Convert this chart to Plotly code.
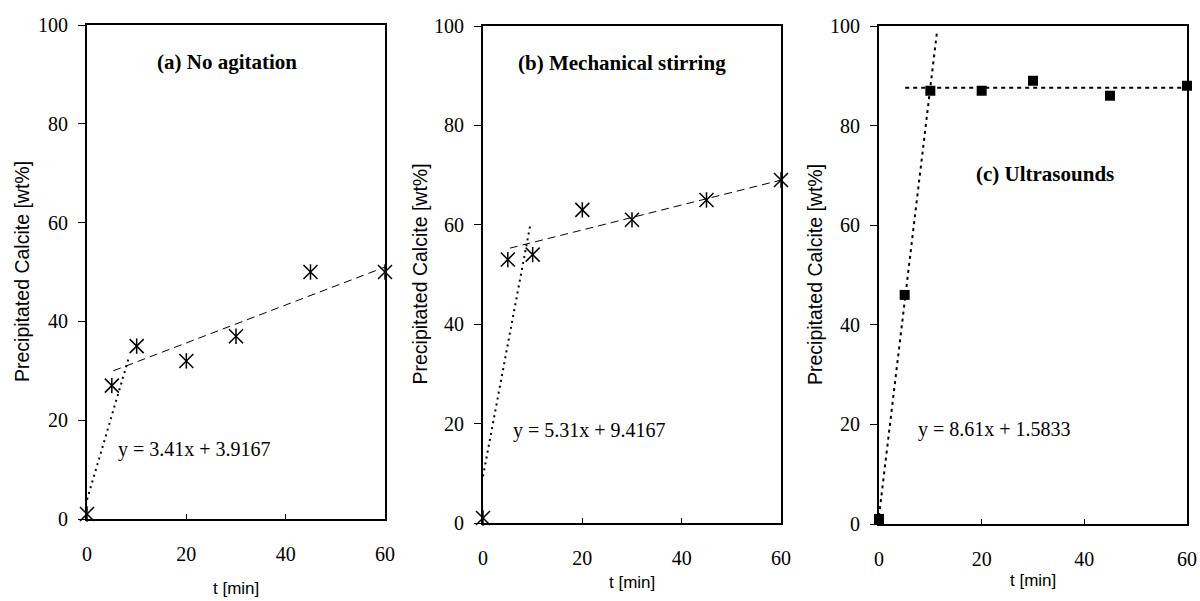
import plotly.graph_objects as go

# ---------------- data ----------------
t_min = [0, 5, 10, 20, 30, 45, 60]
calcite_a = [1, 27, 35, 32, 37, 50, 50]   # (a) No agitation
calcite_b = [1, 53, 54, 63, 61, 65, 69]   # (b) Mechanical stirring
calcite_c = [1, 46, 87, 87, 89, 86, 88]   # (c) Ultrasounds

# early-stage linear fits (from equations shown)
fit_slope = [3.41, 5.31, 8.61]
fit_intercept = [3.9167, 9.4167, 1.5833]
fit_x_end = [8.5, 9.6, 11.3]

# late-stage trend lines (start / end)
trend_x = [[5.3, 60], [5.4, 60], [5.1, 60]]
trend_y = [[30, 51], [55.3, 69], [87.6, 87.6]]

panel_titles = ["(a) No agitation", "(b) Mechanical stirring", "(c) Ultrasounds"]
equations = ["y = 3.41x + 3.9167", "y = 5.31x + 9.4167", "y = 8.61x + 1.5833"]
title_pos = [(28.1, 92.5), (27.9, 92.5), (32.4, 70.2)]
eq_pos = [(5.8, 14), (5.6, 18.6), (7.3, 19)]

x_ticks = [0, 20, 40, 60]
y_ticks = [0, 20, 40, 60, 80, 100]
y_title = "Precipitated Calcite [wt%]"
x_title = "t [min]"

# ---------------- layout geometry ----------------
W, H = 1200, 601
x_dom = [[87 / W, 385 / W], [483 / W, 781 / W], [879 / W, 1187 / W]]
y_dom = [[1 - 519 / H, 1 - 25 / H], [1 - 523 / H, 1 - 26 / H], [1 - 524 / H, 1 - 26 / H]]
ytitle_x = [22, 419, 815]
xtitle_y = [588, 582, 580]

SERIF = "Liberation Serif, Times New Roman, serif"
SANS = "Liberation Sans, Arial, sans-serif"

fig = go.Figure()
data_sets = [calcite_a, calcite_b, calcite_c]

for i in range(3):
    xa = "x" if i == 0 else f"x{i+1}"
    ya = "y" if i == 0 else f"y{i+1}"
    # early fit line
    fx = [0, fit_x_end[i]]
    fy = [fit_slope[i] * v + fit_intercept[i] for v in fx]
    if i < 2:
        early_dash, early_w = "2px,4px", 2
        late_dash, late_w = "8px,5px", 1
    else:
        early_dash, early_w = "3px,4px", 2
        late_dash, late_w = "4px,4px", 2
    fig.add_trace(go.Scatter(x=fx, y=fy, mode="lines", xaxis=xa, yaxis=ya,
                             line=dict(color="black", width=early_w, dash=early_dash),
                             showlegend=False, hoverinfo="skip"))
    fig.add_trace(go.Scatter(x=trend_x[i], y=trend_y[i], mode="lines", xaxis=xa, yaxis=ya,
                             line=dict(color="black", width=late_w, dash=late_dash),
                             showlegend=False, hoverinfo="skip"))
    if i < 2:
        fig.add_trace(go.Scatter(x=t_min, y=data_sets[i], mode="markers", xaxis=xa, yaxis=ya,
                                 cliponaxis=False,
                                 marker=dict(symbol="x-thin-open", size=14, color="black",
                                             line=dict(color="black", width=1.5)),
                                 showlegend=False))
        fig.add_trace(go.Scatter(x=t_min, y=data_sets[i], mode="markers", xaxis=xa, yaxis=ya,
                                 cliponaxis=False, hoverinfo="skip",
                                 marker=dict(symbol="line-ns-open", size=11, color="black",
                                             line=dict(color="black", width=1.5)),
                                 showlegend=False))
    else:
        fig.add_trace(go.Scatter(x=t_min, y=data_sets[i], mode="markers", xaxis=xa, yaxis=ya,
                                 cliponaxis=False,
                                 marker=dict(symbol="square", size=10, color="black"),
                                 showlegend=False))

    axis_common = dict(showgrid=False, zeroline=False, showline=True, linecolor="black",
                       linewidth=2, mirror=True, tickcolor="black", automargin=False,
                       tickfont=dict(family=SERIF, size=20, color="black"))
    fig.update_layout(**{
        ("xaxis" if i == 0 else f"xaxis{i+1}"): dict(
            domain=x_dom[i], range=[0, 60], tickvals=x_ticks, anchor=ya,
            ticks="inside", ticklen=5, tickwidth=1, ticklabelstandoff=16, **axis_common),
        ("yaxis" if i == 0 else f"yaxis{i+1}"): dict(
            domain=y_dom[i], range=[0, 100], tickvals=y_ticks, anchor=xa,
            ticks="outside", ticklen=7, tickwidth=1, ticklabelstandoff=6, **axis_common),
    })

    fig.add_annotation(x=title_pos[i][0], y=title_pos[i][1], xref=xa, yref=ya,
                       xanchor="center", yanchor="middle",
                       text=f"<b>{panel_titles[i]}</b>", showarrow=False,
                       font=dict(family=SERIF, size=21, color="black"))
    fig.add_annotation(x=eq_pos[i][0], y=eq_pos[i][1], xref=xa, yref=ya,
                       xanchor="left", yanchor="middle",
                       text=equations[i], showarrow=False,
                       font=dict(family=SERIF, size=20, color="black"))
    fig.add_annotation(x=ytitle_x[i] / W, y=sum(y_dom[i]) / 2, xref="paper", yref="paper",
                       xanchor="center", yanchor="middle",
                       text=y_title, textangle=-90, showarrow=False,
                       font=dict(family=SANS, size=19.5, color="black"))
    fig.add_annotation(x=sum(x_dom[i]) / 2, y=1 - xtitle_y[i] / H, xref="paper", yref="paper",
                       xanchor="center", yanchor="middle",
                       text=x_title, showarrow=False,
                       font=dict(family=SANS, size=17, color="black"))

fig.update_layout(template="none", width=W, height=H, margin=dict(l=0, r=0, t=0, b=0),
                  paper_bgcolor="white", plot_bgcolor="white")

fig.write_html("out.html", config={"displayModeBar": False},
               post_script="document.body.style.margin='0';document.body.style.overflow='hidden';")
